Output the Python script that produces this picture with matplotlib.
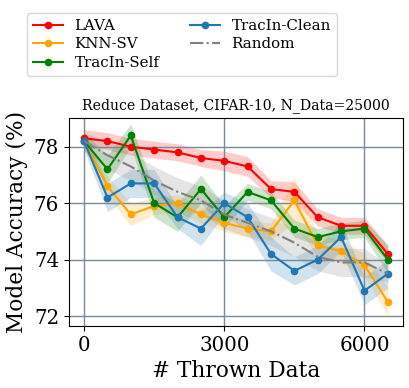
import numpy as np
import matplotlib
matplotlib.use('Agg')
import matplotlib.pyplot as plt

plt.rcParams['font.family'] = 'DejaVu Serif'

thrown = [0, 500, 1000, 1500, 2000, 2500, 3000, 3500, 4000, 4500, 5000, 5500, 6000, 6500]

lava = [78.3, 78.2, 78.0, 77.9, 77.8, 77.6, 77.5, 77.3, 76.5, 76.4, 75.5, 75.2, 75.2, 74.2]
lava_sd = [0.3, 0.3, 0.3, 0.3, 0.3, 0.3, 0.35, 0.35, 0.3, 0.35, 0.3, 0.3, 0.3, 0.3]

knn = [78.2, 76.6, 75.6, 75.9, 76.0, 75.6, 75.3, 75.1, 75.0, 76.1, 74.5, 74.3, 73.8, 72.5]
knn_sd = [0.3, 0.35, 0.4, 0.3, 0.3, 0.3, 0.3, 0.3, 0.3, 0.8, 0.4, 0.4, 0.4, 0.5]

self_ = [78.2, 77.2, 78.4, 76.0, 75.5, 76.5, 75.5, 76.4, 76.1, 75.1, 74.8, 75.0, 75.1, 74.0]
self_sd = [0.3, 0.5, 0.4, 0.5, 0.5, 0.5, 0.4, 0.3, 0.3, 0.3, 0.3, 0.3, 0.3, 0.5]

clean = [78.2, 76.2, 76.7, 76.7, 75.5, 75.1, 76.0, 75.5, 74.2, 73.6, 74.0, 74.8, 72.9, 73.5]
clean_sd = [0.3, 0.5, 0.5, 0.5, 0.4, 0.6, 0.4, 0.5, 0.6, 0.5, 0.5, 0.5, 0.5, 0.5]

rand = [78.2, 77.7, 77.3, 76.8, 76.4, 76.1, 75.6, 75.3, 75.0, 74.6, 74.1, 73.9, 73.9, 73.5]
rand_sd = [0.3, 0.5, 0.5, 0.5, 0.5, 0.5, 0.5, 0.5, 0.5, 0.5, 0.5, 0.5, 0.5, 0.3]

series = [
    ('LAVA', lava, lava_sd, 'red', '-', 'o'),
    ('KNN-SV', knn, knn_sd, 'orange', '-', 'o'),
    ('TracIn-Self', self_, self_sd, 'green', '-', 'o'),
    ('TracIn-Clean', clean, clean_sd, 'tab:blue', '-', 'o'),
    ('Random', rand, rand_sd, 'gray', '-.', None),
]

fig = plt.figure(figsize=(4.1, 3.88), dpi=100)
ax = fig.add_axes([0.168, 0.160, 0.815, 0.536])

x = np.array(thrown)
for name, mean, sd, col, ls, mk in series:
    mean = np.array(mean)
    sd = np.array(sd)
    ax.plot(x, mean, color=col, linestyle=ls, marker=mk, markersize=4.5,
            linewidth=1.5, label=name)
    ax.fill_between(x, mean - sd, mean + sd, color=col, alpha=0.2, linewidth=0)

ax.set_ylim(71.65, 79.02)
ax.set_xticks([0, 3000, 6000])
ax.set_yticks([72, 74, 76, 78])
ax.tick_params(labelsize=14.3)
ax.grid(True, color='#778899', linewidth=1)
ax.set_title('Reduce Dataset, CIFAR-10, N_Data=25000', fontsize=10.1)
ax.set_xlabel('# Thrown Data', fontsize=15.6)
ax.set_ylabel('Model Accuracy (%)', fontsize=15.6)
ax.legend(ncol=2, fontsize=10.8, loc='lower center', bbox_to_anchor=(0.338, 1.202),
          handlelength=2, columnspacing=2.0, labelspacing=0.3, borderaxespad=0)

fig.savefig('out.png', dpi=100)
